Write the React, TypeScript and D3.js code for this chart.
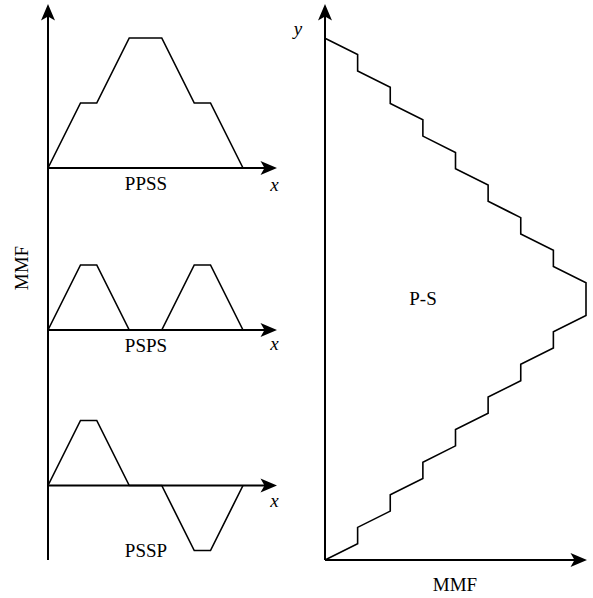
import React from "react"
import * as d3 from "d3"

// left panels: winding position (slot units) and MMF level
const slotPos = [0, 2, 3, 5, 7, 9, 10, 12]
const ppssMmf = [0, 1, 1, 2, 2, 1, 1, 0]
const pspsMmf = [0, 1, 1, 0, 0, 1, 1, 0]
const psspMmf = [0, 1, 1, 0, 0, -1, -1, 0]

// right panel: staircase MMF vs y
const psMmf = [0, 1, 1, 2, 2, 3, 3, 4, 4, 5, 5, 6, 6, 7, 7, 8, 8, 7, 7, 6, 6, 5, 5, 4, 4, 3, 3, 2, 2, 1, 1, 0]
const psY = [32, 31, 30, 29, 28, 27, 26, 25, 24, 23, 22, 21, 20, 19, 18, 17, 15, 14, 13, 12, 11, 10, 9, 8, 7, 6, 5, 4, 3, 2, 1, 0]

const panels = [
  { name: "PPSS", values: ppssMmf, base: 168, label: 190, xLabel: 190.5 },
  { name: "PSPS", values: pspsMmf, base: 330, label: 351.5, xLabel: 350 },
  { name: "PSSP", values: psspMmf, base: 485.5, label: 557, xLabel: 507 },
]

const font = "'Liberation Serif', 'Times New Roman', serif"
const fs = 19

// arrowhead pointing up, tip at (0,0)
const arrowPath = "M0,0 L-7,16.5 L0,12.5 L7,16.5 Z"

const Arrow = ({ x, y, angle }) => (
  <path d={arrowPath} transform={`translate(${x},${y}) rotate(${angle})`} fill="#000" />
)

const App = () => {
  const xL = d3.scaleLinear().domain([0, 12]).range([48, 243])
  const unit = 65

  const xR = d3.scaleLinear().domain([0, 8]).range([325, 586])
  const yR = d3.scaleLinear().domain([0, 32]).range([560, 38.3])
  const stair = d3
    .line()
    .x((d) => xR(d[0]))
    .y((d) => yR(d[1]))(psMmf.map((m, i) => [m, psY[i]]))

  return (
    <svg
      width={593}
      height={598}
      style={{ position: "absolute", left: 0, top: 0, background: "#fff" }}
      fontFamily={font}
    >
      {/* left MMF axis */}
      <line x1={48} x2={48} y1={560} y2={10} stroke="#000" strokeWidth={2} />
      <Arrow x={48} y={4} angle={0} />
      <text
        transform="translate(27.5,268) rotate(-90)"
        textAnchor="middle"
        fontSize={fs}
      >
        MMF
      </text>

      {panels.map((p) => {
        const line = d3
          .line()
          .x((d) => xL(d[0]))
          .y((d) => p.base - d[1] * unit)(slotPos.map((s, i) => [s, p.values[i]]))
        return (
          <g key={p.name}>
            <line x1={48} x2={271} y1={p.base} y2={p.base} stroke="#000" strokeWidth={2} />
            <Arrow x={277} y={p.base} angle={90} />
            <path d={line} fill="none" stroke="#000" strokeWidth={1.6} />
            <text x={146} y={p.label} textAnchor="middle" fontSize={fs}>
              {p.name}
            </text>
            <text x={274.5} y={p.xLabel} textAnchor="middle" fontSize={fs} fontStyle="italic">
              x
            </text>
          </g>
        )
      })}

      {/* right panel */}
      <line x1={325} x2={325} y1={560} y2={10} stroke="#000" strokeWidth={2} />
      <Arrow x={325} y={4} angle={0} />
      <line x1={325} x2={581} y1={560} y2={560} stroke="#000" strokeWidth={2} />
      <Arrow x={587} y={560} angle={90} />
      <path d={stair} fill="none" stroke="#000" strokeWidth={1.6} />
      <text x={298} y={35} textAnchor="middle" fontSize={fs} fontStyle="italic">
        y
      </text>
      <text x={423} y={305} textAnchor="middle" fontSize={fs}>
        P-S
      </text>
      <text x={455} y={590.5} textAnchor="middle" fontSize={fs}>
        MMF
      </text>
    </svg>
  )
}

export default App
